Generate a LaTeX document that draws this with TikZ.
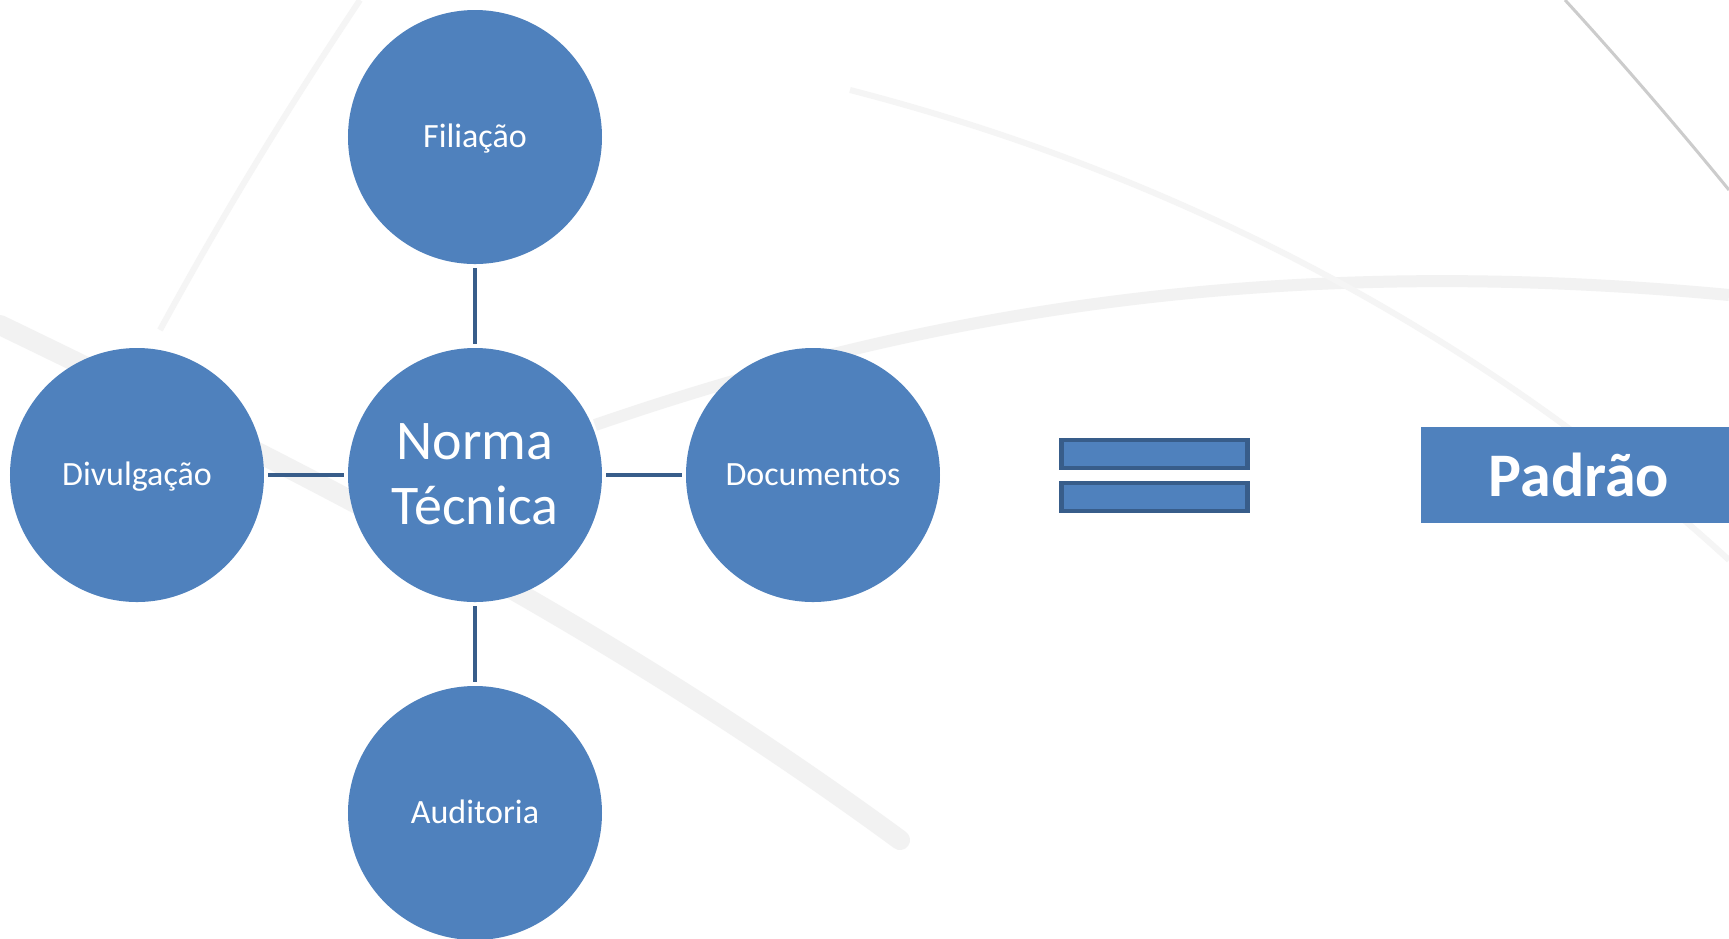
\documentclass[tikz,border=0pt]{standalone}
\usepackage{fontspec}
\setmainfont{Carlito}
\usepackage{xcolor}
\usetikzlibrary{matrix}
\definecolor{officeblue}{HTML}{4F81BD}
\definecolor{darkblue}{HTML}{385D8A}
\colorlet{swoosh}{black!5}
\newcommand\stack[1]{\begin{tabular}[t]{@{}c@{}}#1\end{tabular}}
\tikzstyle{circ}=[circle,fill=officeblue,text=white,minimum size=127pt,inner sep=0pt,anchor=center,text height=12pt,text depth=2pt,font=\fontsize{17}{20}\selectfont]
\tikzstyle{core}=[font=\fontsize{28}{32.5}\selectfont,text height=20pt,text depth=36pt]
\tikzstyle{link}=[darkblue,line width=2.2pt,shorten <=2pt,shorten >=2pt]
\tikzstyle{bar}=[draw=darkblue,fill=officeblue,line width=2.2pt,minimum width=93pt,minimum height=13.8pt,inner sep=0pt]
\tikzstyle{result}=[fill=officeblue,text=white,minimum width=158pt,minimum height=48pt,inner sep=0pt,font=\fontsize{31}{36}\selectfont\bfseries]

\begin{document}
\begin{tikzpicture}[x=0.5pt,y=-0.5pt]
	\fill[white] (0,0) rectangle (1729,938);
	\useasboundingbox (0,0) rectangle (1729,938);
	% faint background swooshes
	\draw[swoosh,line width=10pt,line cap=round] (0,325) .. controls (300,470) and (600,620) .. (900,840);
	\draw[swoosh,line width=6pt] (595,425) .. controls (900,320) and (1250,250) .. (1729,295);
	\draw[black!20,line width=1.5pt] (1565,0) .. controls (1620,60) and (1680,130) .. (1729,190);
	\draw[black!4,line width=3pt] (850,90) .. controls (1200,180) and (1500,350) .. (1729,560);
	\draw[black!4,line width=3pt] (160,330) .. controls (220,220) and (280,120) .. (360,0);
	\matrix [matrix of nodes, nodes={circ}, column sep=42pt, row sep=42pt] (m) at (475,475) {
		           & Filiação                           &            \\
		Divulgação & |[core]| \stack{Norma\\Técnica}   & Documentos \\
		           & Auditoria                          &            \\
	};
	\draw[link] (m-1-2) -- (m-2-2);
	\draw[link] (m-2-1) -- (m-2-2);
	\draw[link] (m-2-2) -- (m-2-3);
	\draw[link] (m-2-2) -- (m-3-2);
	\node[bar] (eqtop) at (1154.5,454) {};
	\node[bar] (eqbot) at (1154.5,497) {};
	\node[result] (padrao) at (1579,475) {Padrão};
\end{tikzpicture}
\end{document}
